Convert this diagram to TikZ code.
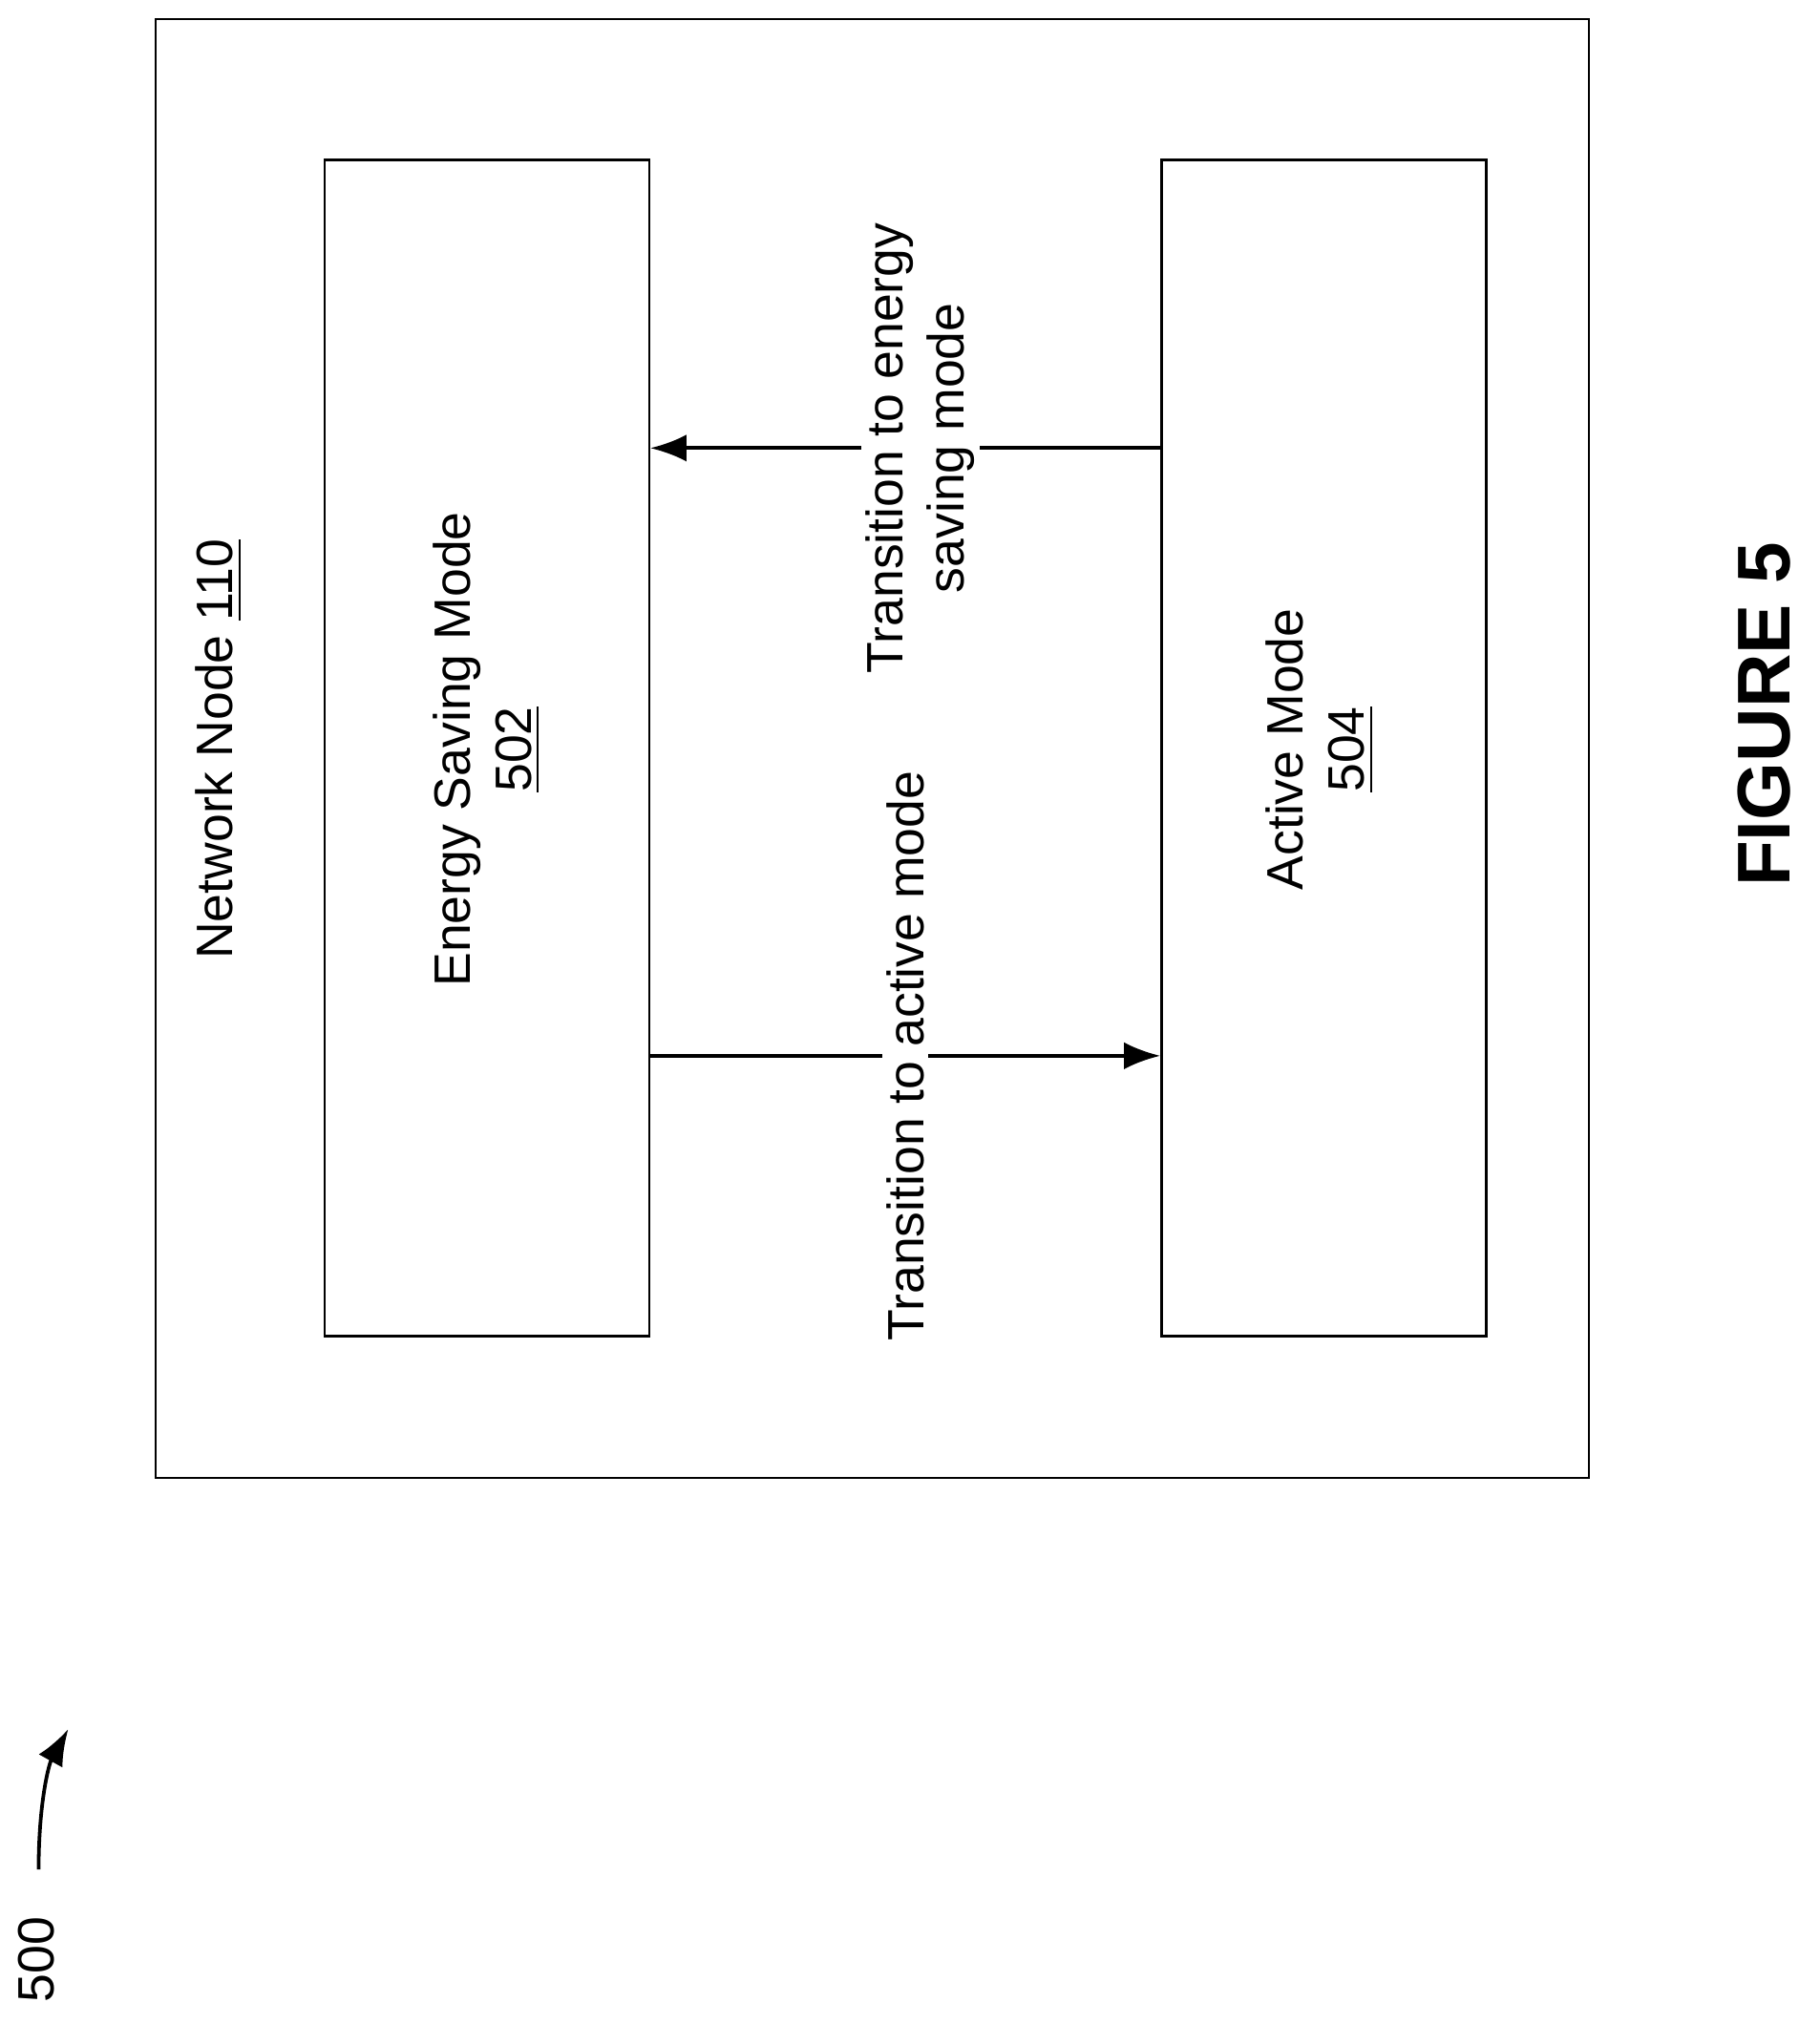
\documentclass[tikz,border=0pt]{standalone}
\usepackage{fontspec}
\setmainfont{Liberation Sans}
\usetikzlibrary{positioning, arrows.meta}
\tikzset{
  modebox/.style={draw, line width=0.5pt, minimum width=2.52cm, minimum height=9.13cm},
  vtext/.style={rotate=90, align=center, font=\fontsize{11.3}{13.5}\selectfont},
  trans/.style={-{Latex[length=8pt,width=6pt]}, line width=0.8pt},
}
\begin{document}
\begin{tikzpicture}[x=0.01cm, y=-0.01cm]
  \useasboundingbox (0,0) rectangle (1413,1572);
  \draw[line width=0.5pt] (121,15) rectangle (1234,1148);

  \node[modebox] (EnergySaving) at (378,581) {};
  \node[modebox] (Active) at (1028,581) {};

  \node[vtext] (NetworkNode) at (170,582) {Network Node \underline{110}};
  \node[vtext] (EnergyLabel) at (378,582) {Energy Saving Mode\\\underline{502}};
  \node[vtext] (ActiveLabel) at (1025,582) {Active Mode\\\underline{504}};

  % transitions between the modes
  \draw[trans] (Active.west |- 0,348) -- (EnergySaving.east |- 0,348)
    node[pos=0.47, vtext, fill=white, inner sep=1pt] {Transition to energy\\saving mode};
  \draw[trans] (EnergySaving.east |- 0,820) -- (Active.west |- 0,820)
    node[pos=0.5, vtext, fill=white, inner sep=1pt] {Transition to active mode};

  \node[rotate=90, font=\bfseries\fontsize{16.5}{20}\selectfont] (Figure) at (1370,555) {FIGURE 5};

  \node[vtext] (Ref) at (28,1522) {500};
  \coordinate (RefTail) at (30,1452);
  \coordinate (RefHead) at (53,1343);
  \draw[-{Latex[length=8pt,width=6pt]}, line width=0.8pt] (RefTail) .. controls (30,1400) and (38,1370) .. (RefHead);
\end{tikzpicture}
\end{document}
